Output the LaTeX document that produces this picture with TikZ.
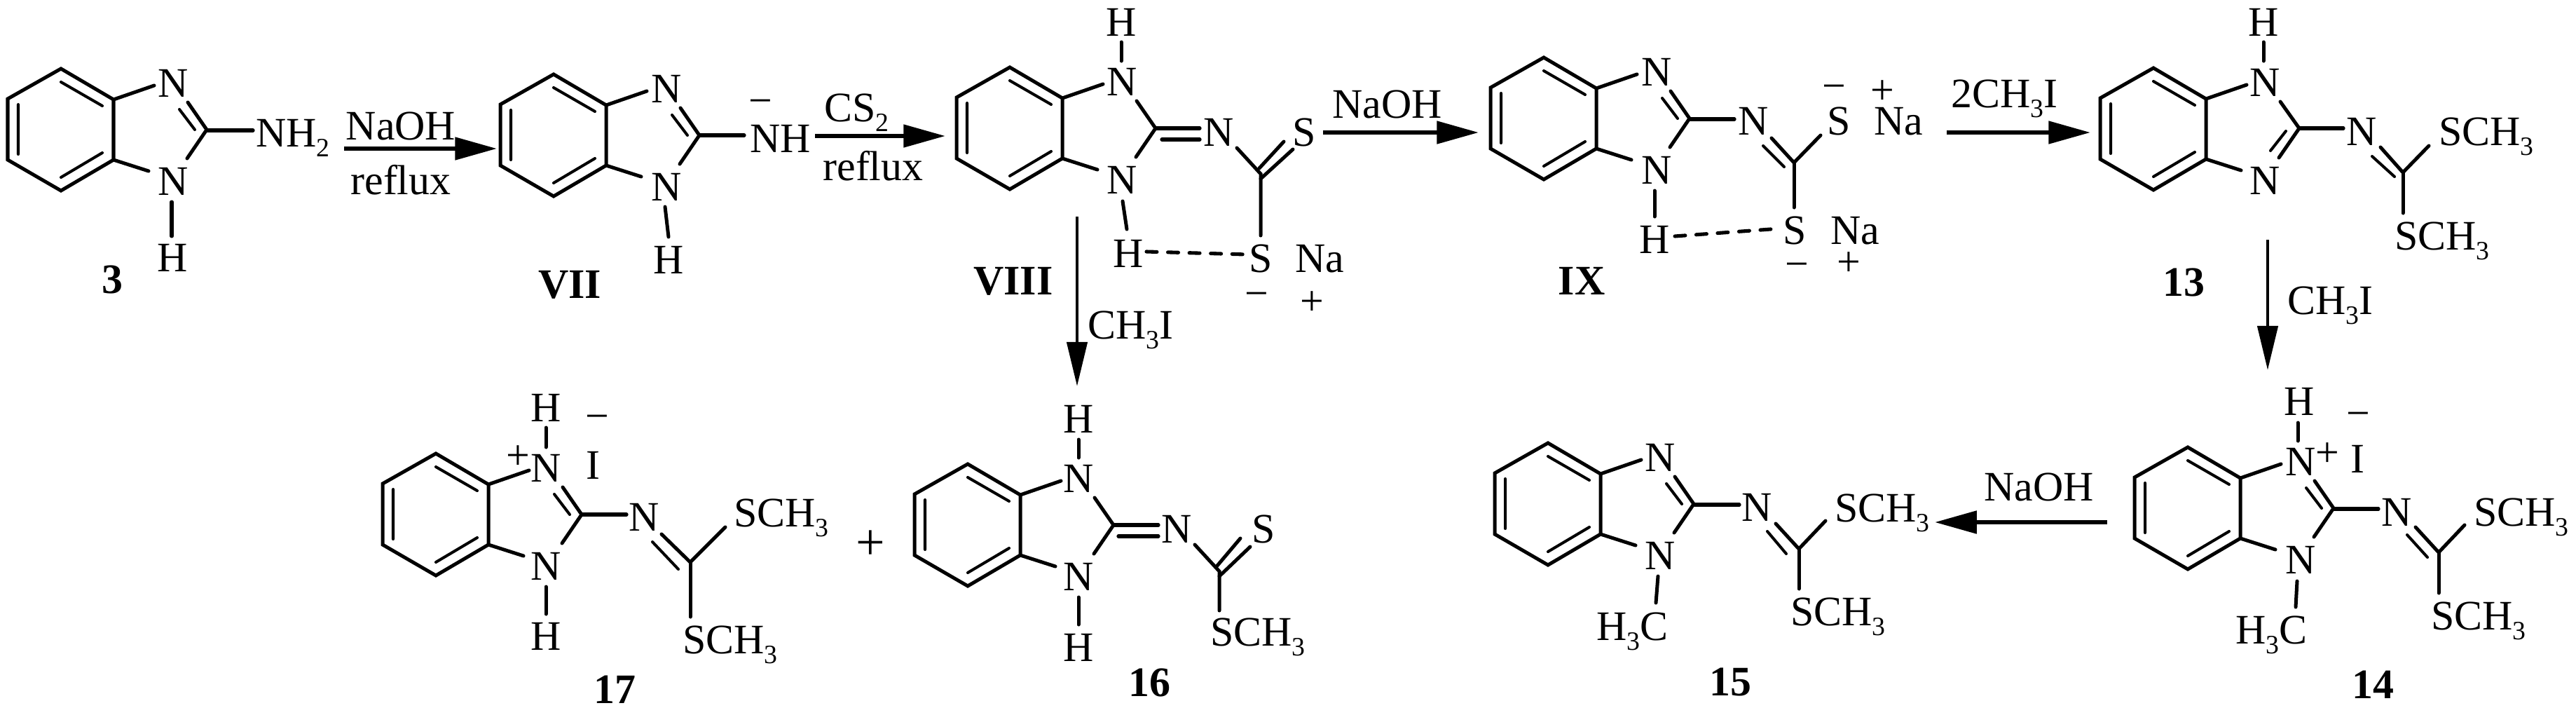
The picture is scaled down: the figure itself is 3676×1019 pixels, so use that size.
\documentclass[tikz,border=0pt]{standalone}
\usepackage{fontspec}
\setmainfont{Liberation Serif}
\usetikzlibrary{arrows.meta}
\newcommand{\afont}{\fontsize{34.1pt}{36pt}\selectfont}
\newcommand{\sbs}[1]{\raisebox{-8pt}{\fontsize{21.5pt}{22pt}\selectfont #1}}
\tikzset{
  x=0.02cm,y=-0.02cm,
  atom/.style={font=\afont,inner sep=0pt,anchor=base},
  atomw/.style={font=\afont,inner sep=0pt,anchor=base west},
  chg/.style={font=\afont,inner sep=0pt,anchor=center},
  cpd/.style={font=\afont\bfseries,inner sep=0pt,anchor=base},
  bond/.style={line width=2.85pt,line join=miter,line cap=round},
  inner/.style={line width=2.3pt,line cap=round},
  exo/.style={line width=3pt,line cap=round},
  hbond/.style={line width=2.9pt,line cap=round,dash pattern=on 8.5pt off 8.9pt},
  rxn/.style={line width=3.5pt,-{Triangle[length=34pt,width=18pt]}},
  rxnd/.style={line width=2.7pt,-{Triangle[length=36pt,width=16.5pt]}},
}
% benzene ring with the two imidazole C-N stubs and both ring N labels
\newcommand{\core}[4]{% prefix, x, y, dN
 \begin{scope}[shift={(#2,#3)}]
  \draw[bond] (0,0) -- (75,44) -- (75,130) -- (0,174) -- (-76,130) -- (-76,43) -- cycle;
  \draw[inner] (0,19) -- (59,53) (0,155) -- (59,120) (-61,51) -- (-61,122);
  \draw[bond] (75,44) -- (133,24) (75,130) -- (125,146);
  \node[atom] (#1Na) at (#4,40) {N};
  \node[atom] (#1Nb) at (#4,180) {N};
 \end{scope}}
% C2 with ring double bond to upper N
\newcommand{\ctop}[2]{\begin{scope}[shift={(#1,#2)}]
  \draw[bond] (181,48) -- (208,87) -- (180,128);
  \draw[inner] (169,58) -- (191,87);
 \end{scope}}
% C2 with single bonds only
\newcommand{\cplain}[2]{\begin{scope}[shift={(#1,#2)}]
  \draw[bond] (181,48) -- (208,87) -- (180,128);
 \end{scope}}
\begin{document}
\begin{tikzpicture}
\path[use as bounding box] (0,0) rectangle (3676,1019);

% ---------- 3
\core{a}{87}{98}{160}\ctop{87}{98}
\draw[exo] (295,186) -- (361,186);
\node[atomw] (aR) at (365,209) {NH\sbs{2}};
\draw[bond] (245,288) -- (245,337);
\node[atom] (aH) at (246,387) {H};
\node[cpd] (l3) at (160,418) {3};

% ---------- VII
\core{b}{790}{106}{161}\ctop{790}{106}
\draw[exo] (998,193) -- (1062,193);
\node[atomw] (bR) at (1070,217) {NH};
\node[chg] (bM) at (1085,153) {−};
\draw[bond] (949,295) -- (954,338);
\node[atom] (bH) at (954,390) {H};
\node[cpd] (l7) at (813,425) {VII};

% ---------- VIII
\core{c}{1441}{96}{160}\cplain{1441}{96}
\node[atom] (cHt) at (1600,51) {H};
\draw[bond] (1600,60) -- (1600,87);
\draw[bond] (1602,287) -- (1608,327);
\node[atom] (cHb) at (1610,381) {H};
\draw[exo] (1650,183) -- (1712,183) (1658,199) -- (1712,199);
\node[atom] (cN) at (1739,208) {N};
\draw[bond] (1765,211) -- (1799,248) -- (1799,336);
\draw[bond] (1797,240) -- (1832,202);
\draw[bond] (1799,255) -- (1845,213);
\node[atom] (cS) at (1861,208) {S};
\node[atom] (cSb) at (1799,388) {S};
\node[atomw] (cNa) at (1848,388) {Na};
\node[chg] (cM) at (1793,428) {−};
\node[chg] (cP) at (1872,433) {+};
\draw[hbond] (1636,359) -- (1779,363);
\node[cpd] (l8) at (1446,420) {VIII};

% ---------- IX
\core{d}{2203}{82}{161}\ctop{2203}{82}
\draw[exo] (2411,170) -- (2475,170);
\node[atom] (dN) at (2502,192) {N};
\draw[bond] (2528,197) -- (2560,232) -- (2598,193);
\draw[inner] (2516,208) -- (2546,238);
\draw[bond] (2560,232) -- (2560,296);
\node[atom] (dS) at (2624,192) {S};
\node[atomw] (dNa) at (2674,192) {Na};
\node[chg] (dM) at (2617,132) {−};
\node[chg] (dP) at (2686,132) {+};
\node[atom] (dSb) at (2561,348) {S};
\node[atomw] (dNab) at (2612,348) {Na};
\node[chg] (dMb) at (2564,386) {−};
\node[chg] (dPb) at (2638,377) {+};
\draw[bond] (2361,272) -- (2361,309);
\node[atom] (dH) at (2361,361) {H};
\draw[hbond] (2390,337) -- (2540,326);
\node[cpd] (l9) at (2257,420) {IX};

% ---------- 13
\core{e}{3073}{97}{159}
\node[atom] (eH) at (3230,51) {H};
\draw[bond] (3230,60) -- (3230,87);
\draw[bond] (3254,145) -- (3281,183) -- (3252,225);
\draw[inner] (3262,187) -- (3240,215);
\draw[exo] (3281,183) -- (3344,183);
\node[atom] (eN) at (3370,207) {N};
\draw[bond] (3397,210) -- (3429,246) -- (3466,208);
\draw[inner] (3385,223) -- (3417,252);
\draw[bond] (3429,246) -- (3429,304);
\node[atomw] (eSa) at (3480,207) {SCH\sbs{3}};
\node[atomw] (eSb) at (3417,356) {SCH\sbs{3}};
\node[cpd] (l13) at (3116,422) {13};

% ---------- 17
\core{f}{622}{647}{157}\ctop{622}{647}
\node[atom] (fHt) at (779,601) {H};
\draw[bond] (779,610) -- (779,638);
\node[chg] (fP) at (739,653) {+};
\node[chg] (fM) at (852,603) {−};
\node[atom] (fI) at (846,683) {I};
\draw[bond] (779,837) -- (779,876);
\node[atom] (fHb) at (779,927) {H};
\draw[exo] (830,734) -- (894,734);
\node[atom] (fN) at (919,757) {N};
\draw[bond] (944,762) -- (985,802) -- (1035,752);
\draw[inner] (931,773) -- (968,812);
\draw[bond] (985,802) -- (985,880);
\node[atomw] (fSa) at (1047,751) {SCH\sbs{3}};
\node[atomw] (fSb) at (974,932) {SCH\sbs{3}};
\node[cpd] (l17) at (877,1003) {17};

\node[font=\fontsize{42pt}{44pt}\selectfont,inner sep=0pt] (plus) at (1242,778) {+};

% ---------- 16
\core{g}{1381}{662}{158}\cplain{1381}{662}
\node[atom] (gHt) at (1539,617) {H};
\draw[bond] (1539,627) -- (1539,653);
\draw[bond] (1539,852) -- (1539,891);
\node[atom] (gHb) at (1539,943) {H};
\draw[exo] (1589,749) -- (1653,749) (1596,765) -- (1653,765);
\node[atom] (gN) at (1679,774) {N};
\draw[bond] (1705,777) -- (1740,815) -- (1740,871);
\draw[bond] (1737,807) -- (1770,768);
\draw[bond] (1740,822) -- (1784,780);
\node[atom] (gS) at (1803,774) {S};
\node[atomw] (gSb) at (1727,921) {SCH\sbs{3}};
\node[cpd] (l16) at (1640,993) {16};

% ---------- 15
\core{h}{2209}{632}{160}\ctop{2209}{632}
\draw[exo] (2418,720) -- (2482,720);
\node[atom] (hN) at (2507,743) {N};
\draw[bond] (2534,747) -- (2567,783) -- (2605,743);
\draw[inner] (2522,758) -- (2549,790);
\draw[bond] (2567,783) -- (2567,840);
\node[atomw] (hSa) at (2618,744) {SCH\sbs{3}};
\node[atomw] (hSb) at (2555,892) {SCH\sbs{3}};
\draw[bond] (2366,822) -- (2363,860);
\node[atomw] (hMe) at (2278,913) {H\sbs{3}C};
\node[cpd] (l15) at (2469,992) {15};

% ---------- 14
\core{i}{3122}{638}{161}\ctop{3122}{638}
\node[atom] (iH) at (3281,592) {H};
\draw[bond] (3279,603) -- (3279,629);
\node[chg] (iP) at (3321,649) {+};
\node[chg] (iM) at (3365,599) {−};
\node[atom] (iI) at (3364,674) {I};
\draw[exo] (3331,726) -- (3394,726);
\node[atom] (iN) at (3420,750) {N};
\draw[bond] (3447,752) -- (3480,788) -- (3517,749);
\draw[inner] (3435,763) -- (3464,795);
\draw[bond] (3480,788) -- (3480,846);
\node[atomw] (iSa) at (3530,750) {SCH\sbs{3}};
\node[atomw] (iSb) at (3469,898) {SCH\sbs{3}};
\draw[bond] (3278,829) -- (3276,866);
\node[atomw] (iMe) at (3190,918) {H\sbs{3}C};
\node[cpd] (l14) at (3386,996) {14};

% ---------- reaction arrows
\coordinate (r1s) at (491,212); \coordinate (r1e) at (709,212);
\coordinate (r2s) at (1163,194); \coordinate (r2e) at (1349,194);
\coordinate (r3s) at (1888,189); \coordinate (r3e) at (2110,189);
\coordinate (r4s) at (2778,189); \coordinate (r4e) at (2983,189);
\coordinate (r5s) at (1537,309); \coordinate (r5e) at (1537,551);
\coordinate (r6s) at (3236,342); \coordinate (r6e) at (3236,528);
\coordinate (r7s) at (3007,745); \coordinate (r7e) at (2761,745);
\draw[rxn] (r1s) -- (r1e);
\draw[rxn] (r2s) -- (r2e);
\draw[rxn] (r3s) -- (r3e);
\draw[rxn] (r4s) -- (r4e);
\draw[rxnd] (r5s) -- (r5e);
\draw[rxnd] (r6s) -- (r6e);
\draw[rxn] (r7s) -- (r7e);

\node[atom] (t1a) at (572,199) {NaOH};
\node[atom] (t1b) at (572,277) {reflux};
\node[atomw] (t2a) at (1176,173) {CS\sbs{2}};
\node[atom] (t2b) at (1246,257) {reflux};
\node[atomw] (t3a) at (1901,168) {NaOH};
\node[atomw] (t4a) at (2784,153) {2CH\sbs{3}I};
\node[atomw] (t5a) at (1552,483) {CH\sbs{3}I};
\node[atomw] (t6a) at (3264,448) {CH\sbs{3}I};
\node[atomw] (t7a) at (2831,714) {NaOH};
\end{tikzpicture}
\end{document}
